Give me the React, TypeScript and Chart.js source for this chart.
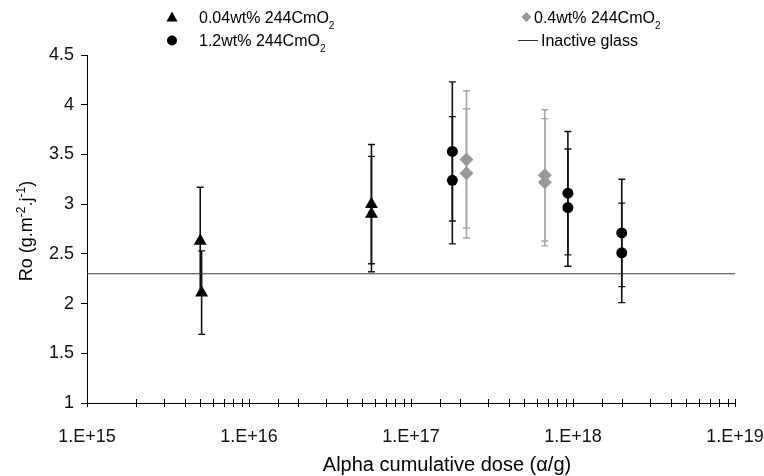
import React, { useEffect, useRef } from "react";
import { Chart, registerables } from "chart.js";

Chart.register(...registerables);

// 0.04wt% 244CmO2 (triangles)
const lowDoseX = [5.0e15, 5.1e15, 5.7e16, 5.7e16];
const lowDoseY = [2.63, 2.11, 3.0, 2.9];
const lowDoseErr = [0.54, 0.42, 0.6, 0.58];

// 0.4wt% 244CmO2 (grey diamonds)
const midDoseX = [2.2e17, 2.2e17, 6.7e17, 6.7e17];
const midDoseY = [3.45, 3.31, 3.29, 3.22];
const midDoseErr = [0.69, 0.65, 0.66, 0.64];

// 1.2wt% 244CmO2 (circles)
const highDoseX = [1.8e17, 1.8e17, 9.3e17, 9.3e17, 2.0e18, 2.0e18];
const highDoseY = [3.53, 3.24, 3.11, 2.965, 2.71, 2.51];
const highDoseErr = [0.7, 0.64, 0.62, 0.59, 0.54, 0.5];

// Inactive glass reference
const inactiveX = [1e15, 1e19];
const inactiveY = [2.3, 2.3];

const xDecades = [15, 16, 17, 18, 19];
const xTickLabels = ["1.E+15", "1.E+16", "1.E+17", "1.E+18", "1.E+19"];
const yTickValues = [1, 1.5, 2, 2.5, 3, 3.5, 4, 4.5];

const legendLabels = ["0.04wt% 244CmO", "0.4wt% 244CmO", "1.2wt% 244CmO", "Inactive glass"];
const xTitle = "Alpha cumulative dose (\u03b1/g)";

const FONT = "'Liberation Sans', Arial, sans-serif";
const GREY = "#999999";

const toPoints = (xs: number[], ys: number[]) => xs.map((x, i) => ({ x, y: ys[i] }));

const errorBarPlugin = {
  id: "errorBars",
  beforeDatasetsDraw(chart: any) {
    const { ctx } = chart;
    const xs = chart.scales.x;
    const ys = chart.scales.y;
    chart.data.datasets.forEach((ds: any) => {
      if (!ds.errors) return;
      ctx.save();
      ctx.strokeStyle = ds.errorColor;
      ds.data.forEach((p: any, i: number) => {
        const e = ds.errors[i];
        const px = xs.getPixelForValue(p.x);
        const top = ys.getPixelForValue(p.y + e);
        const bot = ys.getPixelForValue(p.y - e);
        ctx.lineWidth = 1.6;
        ctx.beginPath();
        ctx.moveTo(px, top);
        ctx.lineTo(px, bot);
        ctx.stroke();
        ctx.lineWidth = 1.4;
        ctx.beginPath();
        ctx.moveTo(px - 3.5, top);
        ctx.lineTo(px + 3.5, top);
        ctx.moveTo(px - 3.5, bot);
        ctx.lineTo(px + 3.5, bot);
        ctx.stroke();
      });
      ctx.restore();
    });
  },
};

const decorPlugin = {
  id: "decor",
  afterDraw(chart: any) {
    const { ctx } = chart;
    const xs = chart.scales.x;
    const area = chart.chartArea;
    ctx.save();
    // x-axis crossing tick marks
    ctx.strokeStyle = "#000";
    ctx.lineWidth = 1;
    xs.ticks.forEach((t: any) => {
      const px = Math.round(xs.getPixelForValue(t.value)) + 0.5;
      ctx.beginPath();
      ctx.moveTo(px, area.bottom - 4);
      ctx.lineTo(px, area.bottom + 4);
      ctx.stroke();
    });

    // legend
    ctx.fillStyle = "#000";
    ctx.textBaseline = "alphabetic";
    ctx.textAlign = "left";
    const drawSubLabel = (text: string, x: number, y: number) => {
      ctx.font = `16px ${FONT}`;
      ctx.fillStyle = "#000";
      ctx.fillText(text, x, y);
      const w = ctx.measureText(text).width;
      ctx.font = `10px ${FONT}`;
      ctx.fillText("2", x + w, y + 6);
    };
    // triangle
    ctx.beginPath();
    ctx.moveTo(172, 11.5);
    ctx.lineTo(166.5, 21.5);
    ctx.lineTo(177.5, 21.5);
    ctx.closePath();
    ctx.fill();
    drawSubLabel(legendLabels[0], 199, 23);
    // circle
    ctx.beginPath();
    ctx.arc(172, 40.5, 5, 0, Math.PI * 2);
    ctx.fill();
    drawSubLabel(legendLabels[2], 199, 45.5);
    // diamond
    ctx.fillStyle = GREY;
    ctx.beginPath();
    ctx.moveTo(526.5, 12);
    ctx.lineTo(531.5, 17);
    ctx.lineTo(526.5, 22);
    ctx.lineTo(521.5, 17);
    ctx.closePath();
    ctx.fill();
    drawSubLabel(legendLabels[1], 534, 23);
    // line
    ctx.strokeStyle = "#333";
    ctx.lineWidth = 1;
    ctx.beginPath();
    ctx.moveTo(518, 40.5);
    ctx.lineTo(538, 40.5);
    ctx.stroke();
    ctx.font = `16px ${FONT}`;
    ctx.fillStyle = "#000";
    ctx.fillText(legendLabels[3], 541, 45.5);

    // x title
    ctx.font = `20px ${FONT}`;
    ctx.textAlign = "center";
    ctx.fillStyle = "#000";
    ctx.fillText(xTitle, 447, 471);

    // y title with superscripts
    ctx.save();
    ctx.translate(32, 231);
    ctx.rotate(-Math.PI / 2);
    ctx.textAlign = "left";
    const parts: [string, boolean][] = [
      ["Ro (g.m", false],
      ["-2", true],
      [".j", false],
      ["-1", true],
      [")", false],
    ];
    let total = 0;
    parts.forEach(([t, sup]) => {
      ctx.font = sup ? `12px ${FONT}` : `18px ${FONT}`;
      total += ctx.measureText(t).width;
    });
    let cx = -total / 2;
    parts.forEach(([t, sup]) => {
      ctx.font = sup ? `12px ${FONT}` : `18px ${FONT}`;
      ctx.fillText(t, cx, sup ? -7 : 0);
      cx += ctx.measureText(t).width;
    });
    ctx.restore();
    ctx.restore();
  },
};

export default function App() {
  const canvasRef = useRef<HTMLCanvasElement | null>(null);

  useEffect(() => {
    const canvas = canvasRef.current;
    if (!canvas) return;
    const chart = new Chart(canvas, {
      type: "scatter",
      data: {
        datasets: [
          {
            label: "Inactive glass",
            type: "line",
            data: toPoints(inactiveX, inactiveY),
            borderColor: "#3a3a3a",
            borderWidth: 1.2,
            pointRadius: 0,
            fill: false,
            order: 5,
          } as any,
          {
            label: "0.04wt% 244CmO2",
            data: toPoints(lowDoseX, lowDoseY),
            pointStyle: "triangle",
            pointRadius: 7.5,
            backgroundColor: "#000",
            borderColor: "#000",
            borderWidth: 0,
            errors: lowDoseErr,
            errorColor: "#111",
          } as any,
          {
            label: "0.4wt% 244CmO2",
            data: toPoints(midDoseX, midDoseY),
            pointStyle: "rectRot",
            pointRadius: 7,
            backgroundColor: GREY,
            borderColor: GREY,
            borderWidth: 0,
            errors: midDoseErr,
            errorColor: "#a6a6a6",
          } as any,
          {
            label: "1.2wt% 244CmO2",
            data: toPoints(highDoseX, highDoseY),
            pointStyle: "circle",
            pointRadius: 5.5,
            backgroundColor: "#000",
            borderColor: "#000",
            borderWidth: 0,
            errors: highDoseErr,
            errorColor: "#111",
          } as any,
        ],
      },
      options: {
        responsive: false,
        animation: false,
        layout: { padding: { top: 55, right: 29, left: 0, bottom: 0 } },
        plugins: {
          legend: { display: false },
          tooltip: { enabled: false },
        },
        scales: {
          x: {
            type: "logarithmic",
            min: Math.pow(10, xDecades[0]),
            max: Math.pow(10, xDecades[xDecades.length - 1]),
            grid: { display: false, drawTicks: false },
            border: { display: true, color: "#000", width: 1 },
            ticks: {
              autoSkip: false,
              maxRotation: 0,
              padding: 23,
              color: "#111",
              font: { family: FONT, size: 18 },
              callback: (value: any) => {
                const l = Math.log10(Number(value));
                const r = Math.round(l);
                if (Math.abs(l - r) < 1e-6) {
                  const idx = xDecades.indexOf(r);
                  return idx >= 0 ? xTickLabels[idx] : "";
                }
                return "";
              },
            },
            afterFit: (s: any) => {
              s.height = 73;
              s.paddingLeft = 0;
              s.paddingRight = 0;
            },
          },
          y: {
            type: "linear",
            min: yTickValues[0],
            max: yTickValues[yTickValues.length - 1],
            grid: {
              display: true,
              drawOnChartArea: false,
              drawTicks: true,
              tickLength: 6,
              color: "#000",
            },
            border: { display: true, color: "#000", width: 1 },
            afterBuildTicks: (s: any) => {
              s.ticks = yTickValues.map((v) => ({ value: v }));
            },
            ticks: {
              padding: 7,
              color: "#111",
              font: { family: FONT, size: 18 },
              callback: (value: any) => String(value),
            },
            afterFit: (s: any) => {
              s.width = 87;
              s.paddingTop = 0;
              s.paddingBottom = 0;
            },
          },
        },
      },
      plugins: [errorBarPlugin, decorPlugin],
    });
    return () => chart.destroy();
  }, []);

  return (
    <div style={{ position: "fixed", left: 0, top: 0, width: 764, height: 476, background: "#fff" }}>
      <canvas ref={canvasRef} width={764} height={476} style={{ display: "block" }} />
    </div>
  );
}
